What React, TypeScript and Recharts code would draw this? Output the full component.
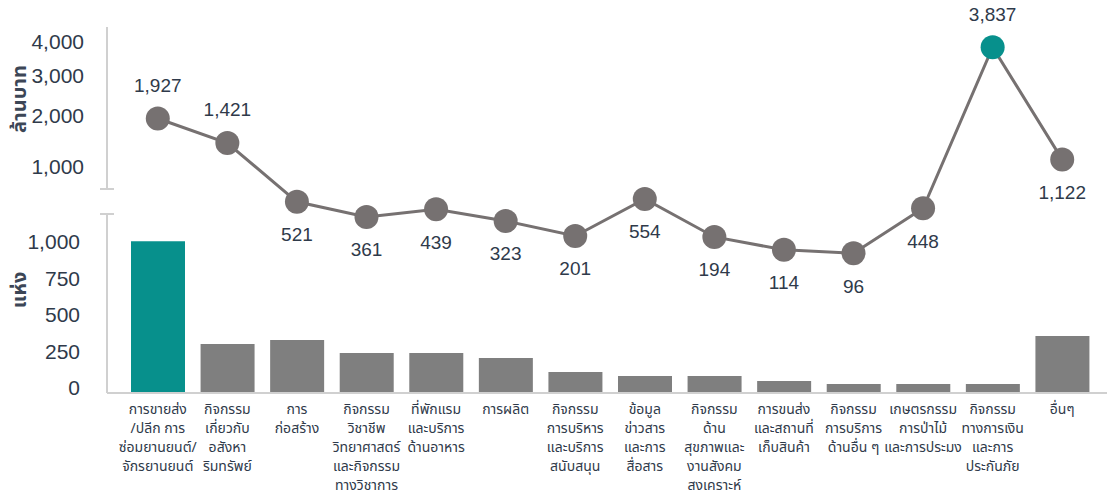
import {
  ComposedChart,
  Bar,
  Line,
  Cell,
  XAxis,
  YAxis,
  LabelList,
} from "recharts";

const categories = [
  "การขายส่ง\n/ปลีก การ\nซ่อมยานยนต์/\nจักรยานยนต์",
  "กิจกรรม\nเกี่ยวกับ\nอสังหา\nริมทรัพย์",
  "การ\nก่อสร้าง",
  "กิจกรรม\nวิชาชีพ\nวิทยาศาสตร์\nและกิจกรรม\nทางวิชาการ",
  "ที่พักแรม\nและบริการ\nด้านอาหาร",
  "การผลิต",
  "กิจกรรม\nการบริหาร\nและบริการ\nสนับสนุน",
  "ข้อมูล\nข่าวสาร\nและการ\nสื่อสาร",
  "กิจกรรม\nด้าน\nสุขภาพและ\nงานสังคม\nสงเคราะห์",
  "การขนส่ง\nและสถานที่\nเก็บสินค้า",
  "กิจกรรม\nการบริการ\nด้านอื่น ๆ",
  "เกษตรกรรม\nการป่าไม้\nและการประมง",
  "กิจกรรม\nทางการเงิน\nและการ\nประกันภัย",
  "อื่นๆ",
];

// จำนวนแห่ง (bars)
const places = [1040, 336, 363, 274, 274, 240, 144, 116, 116, 82, 62, 62, 62, 390];

// ล้านบาท (line)
const amounts = [1927, 1421, 521, 361, 439, 323, 201, 554, 194, 114, 96, 448, 3837, 1122];

const barTicks = [0, 250, 500, 750, 1000];
const amountTicks = [1000, 2000, 3000, 4000];

const TEAL = "#07908c";
const BAR_GRAY = "#7f7f7f";
const LINE_GRAY = "#767171";
const AXIS_GRAY = "#d0d0d0";
const TEXT = "#2f3a4a";
const FONT = "'Liberation Sans', Arial, Helvetica, sans-serif";
const THAI_FONT = "'Noto Sans Thai', 'Noto Sans Thai Looped', Tahoma, 'Noto Sans', sans-serif";

const rows = categories.map((name, i) => ({
  name,
  places: places[i],
  amount: amounts[i],
}));

const maxPlaces = Math.max(...places);
const maxAmount = Math.max(...amounts);

function CategoryTick({ x, y, payload }: any) {
  const lines = String(payload.value).split("\n");
  return (
    <g transform={`translate(${x},${y})`}>
      {lines.map((line, i) => (
        <text
          key={i}
          x={0}
          y={21 + i * 19}
          textAnchor="middle"
          fill={TEXT}
          fontSize={14}
          fontFamily={THAI_FONT}
        >
          {line}
        </text>
      ))}
    </g>
  );
}

function AmountDot({ cx, cy, payload, index }: any) {
  const isMax = payload.amount === maxAmount;
  return (
    <circle
      key={`dot-${index}`}
      cx={cx}
      cy={cy}
      r={12}
      fill={isMax ? TEAL : LINE_GRAY}
    />
  );
}

function AmountLabel({ x, y, value }: any) {
  const above = value >= 1400;
  return (
    <text
      x={x}
      y={above ? y - 33 : y + 33}
      textAnchor="middle"
      dominantBaseline="central"
      fill={TEXT}
      fontSize={19}
      fontFamily={FONT}
    >
      {Number(value).toLocaleString("en-US")}
    </text>
  );
}

const W = 1107;
const H = 494;

export default function App() {
  return (
    <div style={{ position: "relative", width: W, height: H, background: "#fff" }}>
      <style>{`body{margin:0}`}</style>

      <ComposedChart
        width={W}
        height={H}
        data={rows}
        margin={{ top: 214, right: 0, bottom: 0, left: 0 }}
        style={{ position: "absolute", left: 0, top: 0 }}
      >
        <XAxis
          dataKey="name"
          interval={0}
          height={101}
          padding={{ left: 16, right: 10 }}
          tick={<CategoryTick />}
          tickLine={false}
          tickSize={0}
          tickMargin={0}
          axisLine={{ stroke: AXIS_GRAY, strokeWidth: 2 }}
        />
        <YAxis
          width={107}
          domain={[0, 1226]}
          ticks={barTicks}
          allowDataOverflow
          tickFormatter={(v) => Number(v).toLocaleString("en-US")}
          tick={{ fill: TEXT, fontSize: 21, fontFamily: FONT, dy: -5 }}
          tickLine={false}
          tickSize={0}
          tickMargin={27}
          axisLine={{ stroke: AXIS_GRAY, strokeWidth: 2 }}
        />
        <Bar dataKey="places" barSize={54} isAnimationActive={false}>
          {rows.map((r, i) => (
            <Cell key={i} fill={r.places === maxPlaces ? TEAL : BAR_GRAY} />
          ))}
        </Bar>
      </ComposedChart>

      <ComposedChart
        width={W}
        height={H}
        data={rows}
        margin={{ top: 42, right: 0, bottom: 202, left: 0 }}
        style={{ position: "absolute", left: 0, top: 0, overflow: "visible" }}
      >
        <XAxis
          dataKey="name"
          hide
          scale="band"
          padding={{ left: 16, right: 10 }}
        />
        <YAxis
          width={107}
          scale="sqrt"
          type="number"
          domain={[0, 4000]}
          ticks={amountTicks}
          tickFormatter={(v) => Number(v).toLocaleString("en-US")}
          tick={{ fill: TEXT, fontSize: 21, fontFamily: FONT }}
          tickLine={false}
          tickSize={0}
          tickMargin={23}
          axisLine={false}
        />
        <Line
          dataKey="amount"
          stroke={LINE_GRAY}
          strokeWidth={3}
          dot={<AmountDot />}
          activeDot={false}
          isAnimationActive={false}
        >
          <LabelList dataKey="amount" content={<AmountLabel />} />
        </Line>
      </ComposedChart>

      <svg
        width={W}
        height={H}
        style={{ position: "absolute", left: 0, top: 0, pointerEvents: "none" }}
      >
        <g stroke={AXIS_GRAY} strokeWidth={2}>
          <line x1={107} y1={27} x2={107} y2={189} />
          <line x1={100} y1={189} x2={114} y2={189} />
          <line x1={100} y1={214} x2={114} y2={214} />
        </g>
        <text
          transform="translate(26,99) rotate(-90)"
          textAnchor="middle"
          fill="#3c4656"
          fontSize={20}
          fontWeight="bold"
          fontFamily={THAI_FONT}
        >
          ล้านบาท
        </text>
        <text
          transform="translate(26,290) rotate(-90)"
          textAnchor="middle"
          fill="#3c4656"
          fontSize={20}
          fontWeight="bold"
          fontFamily={THAI_FONT}
        >
          แห่ง
        </text>
      </svg>
    </div>
  );
}
